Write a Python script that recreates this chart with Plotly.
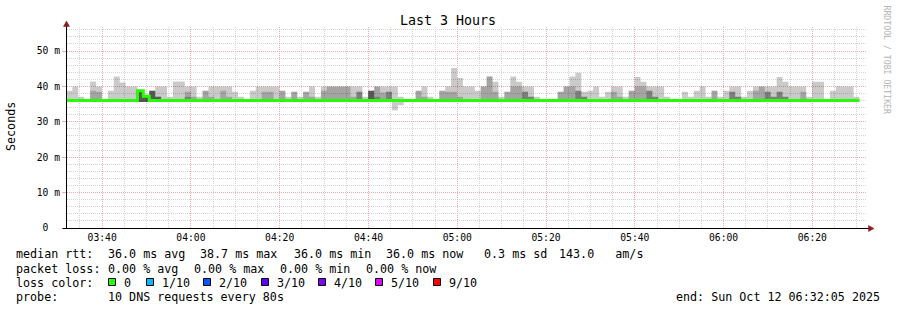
import plotly.graph_objects as go
from datetime import datetime, timedelta

# ---------------- data ----------------
first_bin_start = "2025-10-12 03:31:57"
step_seconds = 80
window_start = "2025-10-12 03:32:05"
window_end = "2025-10-12 06:32:05"
major_tick0 = "2025-10-12 03:40:00"

# highest ping (ping 10 of 10), ms
ping_max = [38.8, 40.0, 37.1, 36.0, 41.4, 40.0, 36.0, 38.8, 42.8, 41.1,
            40.0, 40.0, 38.8, 37.2, 38.8, 40.0, 40.0, 37.1, 41.4, 41.4,
            40.0, 40.0, 37.1, 38.8, 40.0, 40.0, 40.0, 40.0, 38.5, 37.1,
            36.0, 38.8, 40.0, 40.0, 40.0, 40.0, 38.8, 37.1, 38.5, 37.1,
            38.5, 40.0, 37.1, 40.0, 40.0, 40.0, 40.0, 40.0, 40.0, 40.0,
            37.1, 38.8, 40.0, 40.0, 40.0, 40.0, 37.1, 36.0, 36.0, 38.8,
            40.0, 37.1, 36.0, 38.8, 40.0, 45.2, 42.4, 40.0, 40.0, 38.8,
            40.0, 42.8, 41.3, 37.1, 38.5, 42.8, 41.3, 40.0, 40.0, 37.1,
            36.0, 36.0, 36.0, 38.5, 40.0, 42.8, 43.9, 38.5, 38.8, 40.0,
            37.1, 38.5, 40.0, 40.0, 37.1, 38.8, 42.7, 41.3, 40.0, 40.0,
            40.0, 37.1, 36.0, 36.0, 38.5, 37.1, 38.8, 40.0, 37.1, 38.8,
            37.1, 38.8, 40.0, 40.0, 37.1, 38.8, 40.0, 40.0, 40.0, 40.0,
            42.7, 41.3, 40.0, 40.0, 40.0, 37.1, 41.3, 41.3, 36.0, 38.8,
            40.0, 40.0, 40.0, 37.1]
# ping 9 of 10
ping_9 = [36.0, 36.0, 36.0, 36.0, 38.8, 38.5, 36.0, 36.0, 36.0, 36.0,
          36.0, 36.0, 38.8, 37.2, 38.8, 37.1, 36.0, 36.0, 36.0, 36.0,
          38.5, 37.1, 36.0, 38.8, 37.1, 36.0, 38.8, 37.1, 36.0, 36.0,
          36.0, 36.0, 36.0, 38.5, 38.5, 36.0, 38.8, 36.0, 38.5, 36.0,
          38.5, 37.1, 36.0, 38.8, 40.0, 40.0, 40.0, 40.0, 37.1, 38.5,
          36.0, 38.8, 40.0, 38.3, 38.5, 36.0, 36.0, 36.0, 36.0, 38.8,
          37.1, 36.0, 36.0, 38.8, 38.5, 38.5, 37.1, 36.0, 36.0, 36.0,
          40.0, 42.8, 38.5, 36.0, 38.5, 40.0, 40.0, 38.5, 37.1, 36.0,
          36.0, 36.0, 36.0, 38.5, 40.0, 40.0, 38.8, 37.1, 36.0, 36.0,
          36.0, 36.0, 38.5, 37.1, 36.0, 38.8, 40.0, 40.0, 38.8, 37.1,
          36.0, 36.0, 36.0, 36.0, 36.0, 36.0, 36.0, 36.0, 36.0, 38.8,
          36.0, 36.0, 38.5, 37.1, 36.0, 36.0, 38.8, 40.0, 38.5, 37.1,
          38.5, 37.1, 36.0, 36.0, 38.5, 36.0, 36.0, 36.0, 36.0, 36.0,
          36.0, 36.0, 36.0, 36.0]
# ping 8 of 10
ping_8 = [36.0, 36.0, 36.0, 36.0, 36.0, 36.0, 36.0, 36.0, 36.0, 36.0,
          36.0, 36.0, 38.8, 37.2, 38.8, 37.1, 36.0, 36.0, 36.0, 36.0,
          37.1, 36.0, 36.0, 36.0, 36.0, 36.0, 36.0, 36.0, 36.0, 36.0,
          36.0, 36.0, 36.0, 36.0, 36.0, 36.0, 36.0, 36.0, 36.0, 36.0,
          36.0, 36.0, 36.0, 36.0, 36.0, 36.0, 36.0, 36.0, 36.0, 38.5,
          36.0, 38.8, 37.1, 36.0, 38.5, 36.0, 36.0, 36.0, 36.0, 36.0,
          36.0, 36.0, 36.0, 36.0, 36.0, 36.0, 36.0, 36.0, 36.0, 36.0,
          36.0, 36.0, 36.0, 36.0, 36.0, 36.0, 36.0, 38.5, 37.1, 36.0,
          36.0, 36.0, 36.0, 36.0, 36.0, 36.0, 38.8, 37.1, 36.0, 36.0,
          36.0, 36.0, 36.0, 36.0, 36.0, 36.0, 36.0, 36.0, 38.8, 37.1,
          36.0, 36.0, 36.0, 36.0, 36.0, 36.0, 36.0, 36.0, 36.0, 36.0,
          36.0, 36.0, 38.5, 37.1, 36.0, 36.0, 36.0, 36.0, 38.5, 37.1,
          38.5, 37.1, 36.0, 36.0, 36.0, 36.0, 36.0, 36.0, 36.0, 36.0,
          36.0, 36.0, 36.0, 36.0]
# ping 7 of 10
ping_7 = [36.0] * 12 + [38.8, 37.2, 38.8, 37.1] + [36.0] * 35 + [38.8] + [36.0] * 82
# lower pings (ping 2..4) and lowest ping (ping 1)
ping_low = [36.0] * 12 + [35.6, 35.6] + [36.0] * 120
ping_min = [36.0] * 12 + [35.6, 35.6] + [36.0] * 41 + [33.3, 34.7] + [36.0] * 77
# median rtt
median_rtt = [36.0] * 12 + [38.8, 37.2] + [36.0] * 120

y_tick_vals = [0, 10, 20, 30, 40, 50]
y_tick_text = ["0  ", "10 m", "20 m", "30 m", "40 m", "50 m"]

title_text = "Last 3 Hours"
y_title = "Seconds"
credit_text = "RRDTOOL / TOBI OETIKER"
rtt_items = ["median rtt:", "36.0 ms avg", "38.7 ms max", "36.0 ms min",
             "36.0 ms now", "0.3 ms sd", "143.0   am/s"]
loss_items = ["packet loss:", "0.00 % avg", "0.00 % max", "0.00 % min", "0.00 % now"]
loss_color_title = "loss color:"
loss_labels = ["0", "1/10", "2/10", "3/10", "4/10", "5/10", "9/10"]
loss_colors = ["#26ff00", "#00b8ff", "#0059ff", "#5e00ff", "#7e00ff", "#dd00ff", "#ff0000"]
probe_items = ["probe:", "10 DNS requests every 80s"]
end_text = "end: Sun Oct 12 06:32:05 2025"

# ---------------- layout helpers ----------------
W, H = 897, 310
ML, MR, MT, MB = 67, 31, 27, 82
PW, PH = W - ML - MR, H - MT - MB
MONO = "DejaVu Sans Mono"
MAJOR = "#f4aaaa"
MINOR = "#d4d4d4"


def fx(px):
    return (px - ML) / PW


def fy(py):
    return (H - MB - py) / PH


def nb(s):
    return s.replace(" ", "\u00a0")


n = len(ping_max)
t0 = datetime.fromisoformat(first_bin_start)
times = [t0 + timedelta(seconds=step_seconds * i) for i in range(n + 1)]


def ext(a):
    return list(a) + [a[-1]]


fig = go.Figure()
layers = [(ping_min, ping_max, "rgba(0,0,0,0.208)"),
          (ping_low, ping_9, "rgba(0,0,0,0.188)"),
          (ping_low, ping_8, "rgba(0,0,0,0.232)"),
          (ping_low, ping_7, "rgba(0,0,0,0.302)")]
for lo, hi, col in layers:
    fig.add_trace(go.Scatter(x=times, y=ext(lo), mode="lines",
                             line=dict(width=0, shape="hv"),
                             hoverinfo="skip", showlegend=False))
    fig.add_trace(go.Scatter(x=times, y=ext(hi), mode="lines",
                             line=dict(width=0, shape="hv"), fill="tonexty",
                             fillcolor=col, hoverinfo="skip", showlegend=False))
fig.add_trace(go.Scatter(x=times, y=ext(median_rtt), mode="lines",
                         line=dict(width=3, color="#26ff00", shape="hv"),
                         hoverinfo="skip", showlegend=False))

fig.update_layout(
    width=W, height=H,
    margin=dict(l=ML, r=MR, t=MT, b=MB, pad=0, autoexpand=False),
    paper_bgcolor="white", plot_bgcolor="white", showlegend=False,
    font=dict(family=MONO, color="black"),
    xaxis=dict(type="date", range=[window_start, window_end],
               tick0=major_tick0, dtick=1200000, tickformat="%H:%M",
               showgrid=True, gridcolor=MAJOR, griddash="1px,1px", gridwidth=1,
               minor=dict(tick0=major_tick0, dtick=300000, showgrid=True,
                          gridcolor=MINOR, griddash="1px,1px", gridwidth=1),
               showline=True, linecolor="black", linewidth=1, ticks="",
               tickfont=dict(family=MONO, size=9.7, color="black"),
               zeroline=False, fixedrange=True),
    yaxis=dict(range=[0, 56.8], tickvals=y_tick_vals,
               ticktext=[nb(t) for t in y_tick_text],
               showgrid=True, gridcolor=MAJOR, griddash="1px,1px", gridwidth=1,
               minor=dict(tick0=0, dtick=2, showgrid=True, gridcolor=MINOR,
                          griddash="1px,1px", gridwidth=1),
               showline=True, linecolor="black", linewidth=1,
               ticks="outside", ticklen=4, tickcolor=MAJOR,
               tickfont=dict(family=MONO, size=9.7, color="black"),
               zeroline=False, fixedrange=True),
)

# axis extensions and arrows
ARROW = "#8b1a1a"
shapes = [
    dict(type="line", xref="paper", yref="paper", x0=fx(66.5), x1=fx(66.5),
         y0=1, y1=fy(23), line=dict(color="black", width=1)),
    dict(type="line", xref="paper", yref="paper", x0=1, x1=fx(869),
         y0=fy(228.5), y1=fy(228.5), line=dict(color="black", width=1)),
    dict(type="line", xref="paper", yref="paper", x0=fx(62.5), x1=0,
         y0=fy(228.5), y1=fy(228.5), line=dict(color="black", width=1)),
    dict(type="path", xref="paper", yref="paper",
         path=f"M {fx(66.5)} {fy(21)} L {fx(63.5)} {fy(26.5)} L {fx(69.5)} {fy(26.5)} Z",
         fillcolor=ARROW, line=dict(color=ARROW, width=0.5)),
    dict(type="path", xref="paper", yref="paper",
         path=f"M {fx(874)} {fy(228.5)} L {fx(868.5)} {fy(225.5)} L {fx(868.5)} {fy(231.5)} Z",
         fillcolor=ARROW, line=dict(color=ARROW, width=0.5)),
]
sq_left = [108.5, 146.5, 203.5, 261.5, 318.5, 375.5, 433.5]
for sx, col in zip(sq_left, loss_colors):
    shapes.append(dict(type="rect", xref="paper", yref="paper",
                       x0=fx(sx), x1=fx(sx + 7), y0=fy(285.5), y1=fy(278.5),
                       fillcolor=col, line=dict(color="black", width=1)))
fig.update_layout(shapes=shapes)


def label(text, px, py, size=11.7, xanchor="left", color="black", angle=0):
    fig.add_annotation(text=nb(text), x=fx(px), y=fy(py), xref="paper",
                       yref="paper", xanchor=xanchor, yanchor="middle",
                       showarrow=False, borderpad=0, textangle=angle,
                       font=dict(family=MONO, size=size, color=color))


label(title_text, 447.5, 20, size=13.3, xanchor="center")
label(y_title, 11, 127, size=11.7, xanchor="center", angle=-90)
label(credit_text, 886.5, 60, size=8.2, xanchor="center", color="#b4b4b4", angle=90)

rows_y = [254.4, 268.6, 282.8, 297.0]
rtt_x = [16, 107.3, 200, 293.3, 385.7, 483.3, 558.3]
for t, px in zip(rtt_items, rtt_x):
    label(t, px - 0.7, rows_y[0])
loss_x = [16, 107.3, 193.3, 279.3, 365.7]
for t, px in zip(loss_items, loss_x):
    label(t, px - 0.7, rows_y[1])
label(loss_color_title, 16 - 0.7, rows_y[2])
for t, sx in zip(loss_labels, sq_left):
    label(t, sx + 14.1, rows_y[2])
label(probe_items[0], 16 - 0.7, rows_y[3])
label(probe_items[1], 107.3 - 0.7, rows_y[3])
label(end_text, 880.8, rows_y[3], xanchor="right")

fig.write_html("out.html")
